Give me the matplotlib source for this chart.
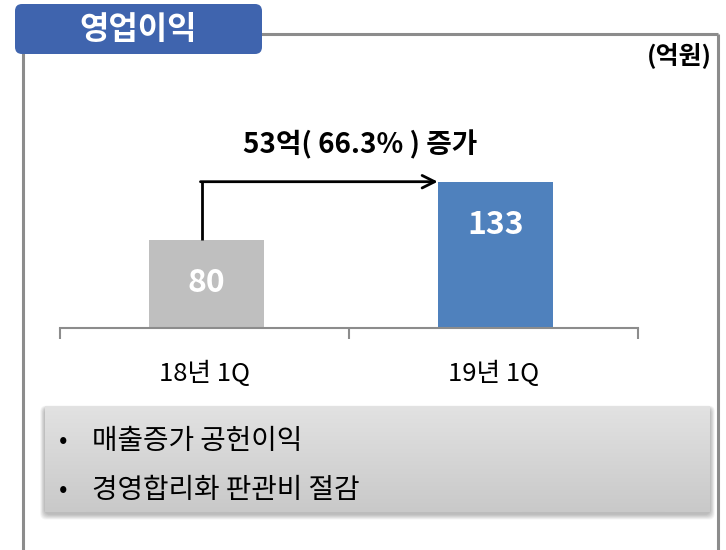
import matplotlib
matplotlib.use("Agg")
import matplotlib.pyplot as plt
import numpy as np
from matplotlib.patches import FancyBboxPatch
from matplotlib.colors import LinearSegmentedColormap

plt.rcParams["font.family"] = ["Noto Sans CJK KR", "DejaVu Sans"]

# data
categories = ["18년 1Q", "19년 1Q"]
values = [80, 133]
bar_colors = ["#BFBFBF", "#4F81BD"]
title = "영업이익"
unit = "(억원)"
change_text = "53억( 66.3% ) 증가"
bullets = ["매출증가 공헌이익", "경영합리화 판관비 절감"]

W, H = 726, 550
fig = plt.figure(figsize=(W / 100, H / 100), dpi=100)

# overlay axes in pixel coords for frame, title box and note box
bg = fig.add_axes([0, 0, 1, 1], zorder=0)
bg.axis("off")

# gray frame
frame_c = "#8C8C8C"
bg.plot([23, 23], [40, H], color=frame_c, lw=2.2, solid_capstyle="butt")
bg.plot([250, 718], [34, 34], color=frame_c, lw=2.2, solid_capstyle="butt")
bg.plot([718, 718], [34, H], color=frame_c, lw=2.2, solid_capstyle="butt")

# title box
bg.add_patch(FancyBboxPatch((15, 4), 247, 50, boxstyle="round,pad=0,rounding_size=7",
                            fc="#3F64AE", ec="none", zorder=3))
bg.text(138, 30, title, color="white", fontsize=23, fontweight="bold",
        ha="center", va="center", zorder=4)
bg.text(712, 55, unit, fontsize=18, fontweight="bold", ha="right", va="center")

# note box with soft shadow
bx, by, bw, bh = 45, 406, 665, 106
for i in range(8, 0, -1):
    bg.add_patch(FancyBboxPatch((bx - i * 0.6, by + 2 - i * 0.3), bw + i * 1.2, bh + i * 1.0,
                                boxstyle="round,pad=0,rounding_size=6",
                                fc="black", ec="none", alpha=0.035, zorder=1))
grad = np.linspace(0, 1, 100).reshape(-1, 1)
bg.imshow(grad, extent=(bx, bx + bw, by + bh, by),
          cmap=LinearSegmentedColormap.from_list("g", ["#E2E2E2", "#C9C9C9"]),
          aspect="auto", zorder=2)
bg.set_xlim(0, W)
bg.set_ylim(H, 0)
for i, line in enumerate(bullets):
    y = 441 + i * 49
    bg.text(63, y, "•", fontsize=18, ha="center", va="center", color="black", zorder=3)
    bg.text(92, y, line, fontsize=20, ha="left", va="center", color="black", zorder=3)

# bar chart
x0, x1, base = 60, 638, 328
ax = fig.add_axes([x0 / W, (H - base) / H, (x1 - x0) / W, 165 / H], zorder=1)
ax.patch.set_visible(False)
xs = np.arange(len(categories))
ax.bar(xs + 0.007, values, width=0.398, color=bar_colors, zorder=2)
ax.set_xlim(-0.5, 1.5)
ax.set_ylim(0, 150)
for s in ["top", "right", "left"]:
    ax.spines[s].set_visible(False)
ax.spines["bottom"].set_color("#8C8C8C")
ax.spines["bottom"].set_linewidth(1.5)
ax.set_yticks([])
ax.set_xticks([-0.5, 0.5, 1.5])
ax.set_xticklabels([])
ax.tick_params(axis="x", length=8, width=1.5, color="#8C8C8C", direction="out")
for xi, c in zip(xs, categories):
    ax.annotate(c, (xi, 0), xytext=(0, -33), textcoords="offset points",
                ha="center", va="center", fontsize=18.5)
for xi, v in zip(xs, values):
    ax.annotate(str(v), (xi + 0.007, v), xytext=(0, -31), textcoords="offset points",
                color="white", fontsize=23, fontweight="bold",
                ha="center", va="center", zorder=3)

# change arrow
ax_x = xs[0] - 0.01
ax.plot([ax_x, ax_x], [values[0], values[1]], color="black", lw=2, zorder=3,
        solid_capstyle="butt")
ax.annotate("", xy=(xs[1] - 0.193, values[1]), xytext=(ax_x - 0.004, values[1]),
            arrowprops=dict(arrowstyle="->,head_length=0.9,head_width=0.45",
                            color="black", lw=2, shrinkA=0, shrinkB=0), zorder=3)
ax.annotate(change_text, (0.5, values[1]), xytext=(8, 27), textcoords="offset points",
            fontsize=20, fontweight="bold", ha="center", va="center")

fig.savefig("out.png", dpi=100)
